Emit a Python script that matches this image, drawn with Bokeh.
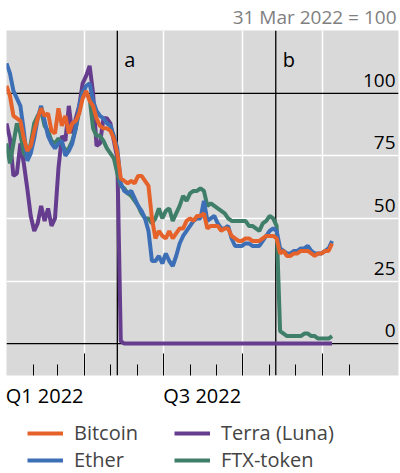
import pandas as pd
from bokeh.plotting import figure
from bokeh.layouts import column
from bokeh.models import (FixedTicker, DatetimeAxis, Span, Label, Legend,
                          LegendItem, Range1d, ColumnDataSource)
from bokeh.core.properties import value
from bokeh.embed import file_html
from bokeh.resources import INLINE

# ---------------- data (31 Mar 2022 = 100), one value every 4 days from 1 Jan 2022
start_date = "2022-01-01"
step = "4D"

bitcoin = [103, 99, 91, 90, 89, 82, 77, 79, 85, 90,
           94, 91, 92, 85, 84, 94, 87, 91, 84, 88,
           89, 92, 98, 101, 97, 95, 90, 87, 86, 86,
           85, 82, 76, 66, 65, 64, 65, 64, 67, 67,
           65, 63, 50, 42, 45, 43, 42, 45, 42, 44,
           46, 46, 49, 50, 49, 51, 51, 52, 46, 47,
           47, 47, 45, 46, 46, 43, 42, 41, 41, 42,
           42, 41, 41, 41, 42, 43, 43, 43, 42, 36,
           37, 35, 35, 36, 36, 37, 37, 37, 36, 35,
           36, 36, 37, 37, 40]

ether = [112, 108, 101, 98, 95, 85, 73, 76, 82, 90,
         95, 89, 83, 80, 78, 80, 81, 75, 77, 80,
         86, 95, 100, 103, 104, 97, 93, 91, 90, 88,
         87, 83, 78, 64, 61, 60, 61, 58, 55, 53,
         50, 45, 33, 33, 35, 32, 36, 33, 31, 35,
         40, 43, 45, 47, 49, 50, 50, 57, 49, 50,
         51, 48, 46, 46, 47, 42, 39, 39, 39, 40,
         40, 39, 39, 39, 41, 43, 45, 46, 45, 38,
         37, 36, 36, 37, 37, 38, 38, 39, 37, 36,
         36, 36, 37, 38, 41]

terra = [88, 82, 67, 68, 80, 72, 62, 51, 45, 48,
         55, 49, 54, 47, 50, 70, 83, 81, 95, 84,
         90, 95, 104, 107, 111, 100, 79, 80, 90, 90,
         88, 81, 74, 1, 0, 0, 0, 0, 0, 0,
         0, 0, 0, 0, 0, 0, 0, 0, 0, 0,
         0, 0, 0, 0, 0, 0, 0, 0, 0, 0,
         0, 0, 0, 0, 0, 0, 0, 0, 0, 0,
         0, 0, 0, 0, 0, 0, 0, 0, 0, 0,
         0, 0, 0, 0, 0, 0, 0, 0, 0, 0,
         0, 0, 0, 0, 0]

ftx = [80, 72, 80, 88, 84, 76, 74, 80, 88, 91,
       93, 87, 85, 81, 80, 82, 80, 77, 78, 81,
       86, 93, 101, 100, 98, 86, 83, 83, 81, 78,
       76, 74, 68, 63, 62, 60, 59, 57, 55, 52,
       50, 50, 48, 50, 54, 50, 53, 54, 49, 52,
       55, 59, 57, 60, 61, 61, 62, 61, 55, 56,
       55, 54, 53, 52, 50, 49, 49, 49, 49, 49,
       47, 47, 46, 45, 48, 49, 51, 50, 47, 5,
       4, 3, 3, 3, 3, 3, 4, 4, 3, 3,
       2, 2, 2, 2, 3]

series_names = ["Bitcoin", "Terra (Luna)", "Ether", "FTX-token"]

y_ticks = [0, 25, 50, 75, 100]
y_tick_labels = ["0", "25", "50", "75", "100"]

quarter_starts = ["2022-04-01", "2022-07-01", "2022-10-01", "2023-01-01"]
month_starts = ["2022-02-01", "2022-03-01", "2022-05-01", "2022-06-01",
                "2022-08-01", "2022-09-01", "2022-11-01", "2022-12-01",
                "2023-02-01"]
quarter_label_pos = ["2022-02-14", "2022-08-15"]
quarter_labels = ["Q1 2022", "Q3 2022"]

events = ["2022-05-09", "2022-11-08"]
event_labels = ["a", "b"]

title_text = "31 Mar 2022 = 100"

# ---------------- helpers
def ms(d):
    return int(pd.Timestamp(d).timestamp() * 1000)

dates = pd.date_range(start_date, periods=len(bitcoin), freq=step)
src = ColumnDataSource(dict(date=dates, bitcoin=bitcoin, ether=ether,
                            terra=terra, ftx=ftx))

FONT = "Open Sans"
FS = "19px"
FS_BIG = "20px"

x_start = pd.Timestamp("2022-01-01")
x_end = pd.Timestamp("2023-03-29 18:00")

p = figure(width=400, height=411, x_axis_type="datetime",
           x_range=Range1d(x_start, x_end), y_range=Range1d(-12.75, 125.1),
           y_axis_location=None, output_backend="svg", toolbar_location=None,
           background_fill_color="#d9d9d9", border_fill_color="white",
           outline_line_color=None, min_border=0,
           min_border_left=6, min_border_right=2,
           title=title_text)

p.title.align = "right"
p.title.text_font = FONT
p.title.text_font_size = FS
p.title.text_font_style = "normal"
p.title.text_color = "#7f7f7f"
p.title.standoff = 2
p.title.offset = 2

# grids
p.xgrid.ticker = FixedTicker(ticks=[ms(d) for d in quarter_starts])
p.xgrid.grid_line_color = "white"
p.xgrid.grid_line_width = 1.5
p.ygrid.ticker = FixedTicker(ticks=[t for t in y_ticks if t not in (0, 100)])
p.ygrid.grid_line_color = "white"
p.ygrid.grid_line_width = 1.5

# reference lines (below data)
for yv in (0, 100):
    p.add_layout(Span(location=yv, dimension="width", line_color="black",
                      line_width=1.3, level="underlay"))
for d in events:
    p.add_layout(Span(location=ms(d), dimension="height", line_color="black",
                      line_width=1.3, level="underlay"))

# tick axis (ticks inside frame bottom)
ax = p.xaxis[0]
ax.ticker = FixedTicker(ticks=[ms(d) for d in quarter_starts],
                        minor_ticks=[ms(d) for d in month_starts])
ax.major_tick_in = 22
ax.major_tick_out = 0
ax.minor_tick_in = 11
ax.minor_tick_out = 0
ax.major_tick_line_color = "black"
ax.minor_tick_line_color = "black"
ax.axis_line_color = None
ax.major_label_text_font_size = "0px"
ax.major_label_standoff = 0
ax.major_label_overrides = {ms(d): "" for d in quarter_starts}

# label axis
ax2 = DatetimeAxis(ticker=FixedTicker(ticks=[ms(d) for d in quarter_label_pos]),
                   major_label_overrides={ms(d): l for d, l in zip(quarter_label_pos, quarter_labels)},
                   major_tick_in=0, major_tick_out=0, minor_tick_in=0, minor_tick_out=0,
                   axis_line_color=None, major_label_standoff=6,
                   major_label_text_font=FONT, major_label_text_font_size=FS_BIG,
                   major_label_text_color="black")
p.add_layout(ax2, "below")

# data lines
lw = 4
r_terra = p.line("date", "terra", source=src, color="#663d8e", line_width=lw)
r_ftx = p.line("date", "ftx", source=src, color="#3f7f69", line_width=lw)
r_eth = p.line("date", "ether", source=src, color="#3d6fb6", line_width=lw)
r_btc = p.line("date", "bitcoin", source=src, color="#e5632a", line_width=lw)

# y tick labels inside plot, right side
p.text(x=[x_end] * len(y_ticks), y=y_ticks, text=y_tick_labels,
       text_align="right", text_baseline="alphabetic", x_offset=-3, y_offset=-13,
       text_font=value(FONT), text_font_size=FS, text_color="black")

# event labels
for d, t in zip(events, event_labels):
    p.add_layout(Label(x=ms(d), y=113.5, text=t, x_offset=7,
                       text_font=FONT, text_font_size=FS_BIG, text_color="black",
                       text_baseline="alphabetic"))

# ---------------- legend panel (same series, drawn outside its visible range)
pl = figure(width=400, height=62, output_backend="svg", toolbar_location=None,
            x_axis_location=None, y_axis_location=None, min_border=0,
            outline_line_color=None, background_fill_color="white",
            x_range=Range1d(x_start, x_end), y_range=Range1d(-1000, -999))
pl.grid.visible = False
l_terra = pl.line("date", "terra", source=src, color="#663d8e", line_width=lw)
l_ftx = pl.line("date", "ftx", source=src, color="#3f7f69", line_width=lw)
l_eth = pl.line("date", "ether", source=src, color="#3d6fb6", line_width=lw)
l_btc = pl.line("date", "bitcoin", source=src, color="#e5632a", line_width=lw)

legend = Legend(items=[LegendItem(label=series_names[0], renderers=[l_btc]),
                       LegendItem(label=series_names[1], renderers=[l_terra]),
                       LegendItem(label=series_names[2], renderers=[l_eth]),
                       LegendItem(label=series_names[3], renderers=[l_ftx])],
                orientation="horizontal", ncols=2, location=(21, 0),
                padding=0, margin=0, spacing=0, glyph_width=36, glyph_height=20,
                label_height=20, label_width=100, label_standoff=11,
                label_text_font=FONT, label_text_font_size=FS_BIG,
                border_line_color=None, background_fill_alpha=0)
pl.add_layout(legend)

layout = column(p, pl, spacing=0)
open("out.html", "w").write(file_html(layout, INLINE))
